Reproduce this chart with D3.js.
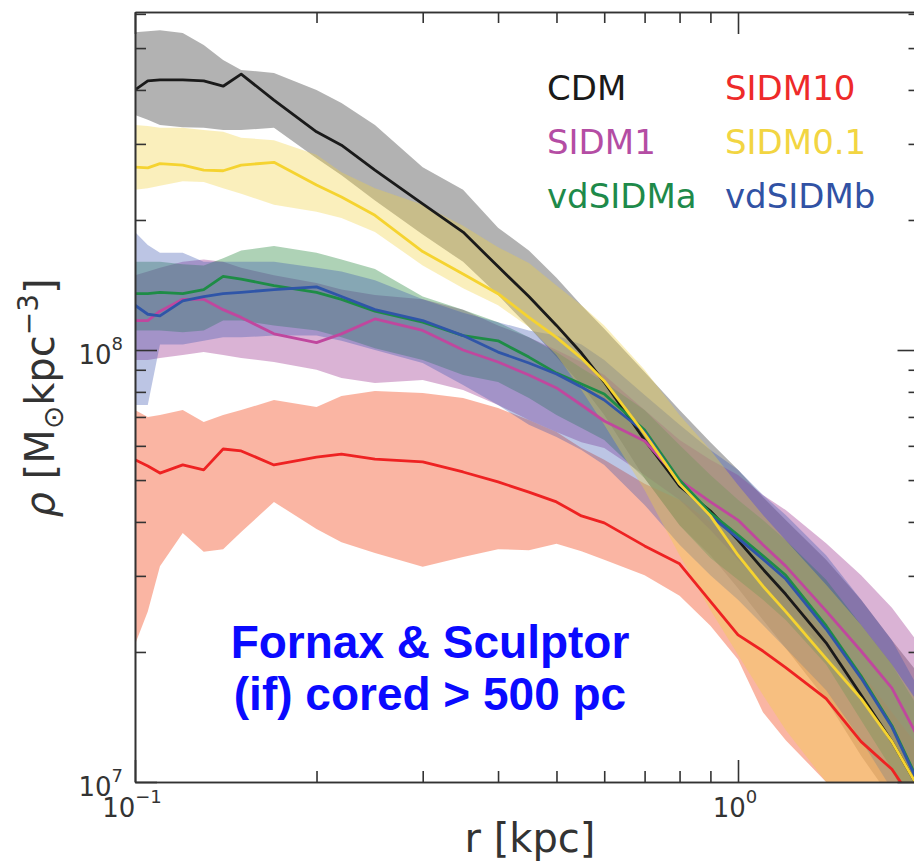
<!DOCTYPE html>
<html lang="en">
<head>
  <meta charset="UTF-8">
  <title>Density profiles - Fornax &amp; Sculptor</title>
  <script src="https://d3js.org/d3.v7.min.js"></script>
  <style>
    html, body {
      margin: 0;
      background: #ffffff;
    }
    svg {
      display: block;
    }
    text {
      font-family: "DejaVu Sans", sans-serif;
    }
    .axis path, .axis line {
      stroke: #333333;
      stroke-width: 1.6px;
    }
    .note {
      font-family: "Liberation Sans", Arial, sans-serif;
      font-weight: bold;
      font-size: 46px;
      fill: #0a0aff;
      text-anchor: middle;
    }
  </style>
</head>
<body>
  <svg width="914" height="864"></svg>

  <script>
    // radius grid (kpc)
    const radius = [0.1, 0.105, 0.11, 0.12, 0.13, 0.14, 0.15, 0.17, 0.2, 0.22, 0.25, 0.3, 0.35, 0.4,
                    0.45, 0.5, 0.55, 0.6, 0.7, 0.8, 0.9, 1.0, 1.1, 1.2, 1.4, 1.6, 1.8, 2.0];

    // density (M_sun kpc^-3): median line, lower and upper edge of the band
    const cdmMid = [4.0e8, 4.2e8, 4.22e8, 4.22e8, 4.2e8, 4.08e8, 4.35e8, 3.79e8, 3.2e8, 2.98e8, 2.61e8, 2.18e8, 1.875e8, 1.56e8,
                    1.33e8, 1.14e8, 9.84e7, 8.43e7, 6.19e7, 4.84e7, 4.24e7, 3.63e7, 3.11e7, 2.72e7, 2.1e7, 1.59e7, 1.24e7, 9.6e6];
    const cdmLo  = [3.5e8, 3.41e8, 3.32e8, 3.28e8, 3.27e8, 3.23e8, 3.23e8, 3.27e8, 2.78e8, 2.54e8, 2.22e8, 1.85e8, 1.6e8, 1.34e8,
                    1.13e8, 9.63e7, 8.3e7, 7.07e7, 5.05e7, 3.93e7, 3.35e7, 2.81e7, 2.37e7, 2.04e7, 1.55e7, 1.15e7, 9.1e6, 7.1e6];
    const cdmHi  = [5.44e8, 5.47e8, 5.5e8, 5.42e8, 5.08e8, 4.69e8, 4.45e8, 4.38e8, 4.0e8, 3.73e8, 3.32e8, 2.65e8, 2.35e8, 1.92e8,
                    1.7e8, 1.47e8, 1.27e8, 1.12e8, 8.89e7, 7.26e7, 6.12e7, 5.28e7, 4.57e7, 4.04e7, 3.27e7, 2.64e7, 2.13e7, 1.77e7];

    const sidm10Mid = [5.57e7, 5.39e7, 5.19e7, 5.42e7, 5.28e7, 5.9e7, 5.84e7, 5.42e7, 5.65e7, 5.74e7, 5.59e7, 5.51e7, 5.22e7, 4.95e7,
                       4.69e7, 4.45e7, 4.13e7, 3.98e7, 3.52e7, 3.2e7, 2.62e7, 2.19e7, 2.01e7, 1.84e7, 1.56e7, 1.24e7, 1.07e7, 8.6e6];
    const sidm10Lo  = [2.08e7, 2.48e7, 3.16e7, 3.77e7, 3.41e7, 3.46e7, 3.79e7, 4.45e7, 3.85e7, 3.59e7, 3.39e7, 3.15e7, 3.32e7, 3.46e7,
                       3.44e7, 3.56e7, 3.42e7, 3.27e7, 3.01e7, 2.7e7, 2.3e7, 1.92e7, 1.45e7, 1.25e7, 1.0e7, 8.2e6, 7.0e6, 5.9e6];
    const sidm10Hi  = [7.26e7, 7.0e7, 7.07e7, 7.26e7, 6.81e7, 7.07e7, 7.26e7, 7.66e7, 7.38e7, 7.83e7, 8.04e7, 7.95e7, 7.74e7, 7.34e7,
                       6.89e7, 6.46e7, 5.93e7, 5.57e7, 4.9e7, 4.5e7, 4.0e7, 3.55e7, 3.1e7, 2.75e7, 2.2e7, 1.8e7, 1.45e7, 1.2e7];

    const sidm1Mid = [1.17e8, 1.17e8, 1.23e8, 1.31e8, 1.31e8, 1.24e8, 1.19e8, 1.09e8, 1.04e8, 1.09e8, 1.18e8, 1.11e8, 1.0e8, 9.38e7,
                      8.75e7, 8.17e7, 7.46e7, 6.85e7, 6.16e7, 5.0e7, 4.45e7, 4.04e7, 3.54e7, 3.16e7, 2.49e7, 2.01e7, 1.65e7, 1.25e7];
    const sidm1Lo  = [9.48e7, 9.48e7, 9.58e7, 9.74e7, 9.89e7, 9.74e7, 9.58e7, 9.38e7, 9.0e7, 8.62e7, 8.39e7, 8.52e7, 8.08e7, 7.46e7,
                      6.89e7, 6.46e7, 6.12e7, 5.93e7, 5.14e7, 4.5e7, 3.83e7, 3.27e7, 2.86e7, 2.5e7, 2.02e7, 1.55e7, 1.22e7, 9.6e6];
    const sidm1Hi  = [1.49e8, 1.52e8, 1.55e8, 1.6e8, 1.62e8, 1.6e8, 1.55e8, 1.49e8, 1.43e8, 1.38e8, 1.34e8, 1.31e8, 1.24e8, 1.14e8,
                      1.07e8, 1.0e8, 9.38e7, 8.75e7, 7.26e7, 6.19e7, 5.57e7, 5.14e7, 4.62e7, 4.26e7, 3.57e7, 3.01e7, 2.53e7, 2.08e7];

    const sidm01Mid = [2.65e8, 2.64e8, 2.7e8, 2.68e8, 2.61e8, 2.6e8, 2.68e8, 2.72e8, 2.41e8, 2.26e8, 2.05e8, 1.69e8, 1.5e8, 1.35e8,
                       1.19e8, 1.07e8, 9.58e7, 8.48e7, 6.4e7, 4.9e7, 4.13e7, 3.35e7, 2.84e7, 2.48e7, 1.93e7, 1.56e7, 1.24e7, 9.6e6];
    const sidm01Lo  = [2.35e8, 2.37e8, 2.4e8, 2.46e8, 2.45e8, 2.37e8, 2.3e8, 2.17e8, 2.09e8, 2.02e8, 1.875e8, 1.57e8, 1.39e8, 1.27e8,
                       1.13e8, 9.74e7, 8.08e7, 6.71e7, 4.74e7, 3.35e7, 2.5e7, 1.97e7, 1.59e7, 1.32e7, 1.0e7, 7.7e6, 6.3e6, 5.3e6];
    const sidm01Hi  = [3.32e8, 3.3e8, 3.27e8, 3.27e8, 3.23e8, 3.2e8, 3.1e8, 3.06e8, 2.83e8, 2.58e8, 2.37e8, 2.17e8, 1.94e8, 1.73e8,
                       1.59e8, 1.41e8, 1.27e8, 1.14e8, 9.0e7, 7.07e7, 5.87e7, 4.87e7, 4.15e7, 3.63e7, 2.86e7, 2.31e7, 1.87e7, 1.51e7];

    const vdaMid = [1.35e8, 1.35e8, 1.36e8, 1.35e8, 1.38e8, 1.48e8, 1.46e8, 1.41e8, 1.36e8, 1.31e8, 1.23e8, 1.16e8, 1.08e8, 1.05e8,
                    9.63e7, 8.84e7, 8.34e7, 7.91e7, 6.53e7, 5.0e7, 4.2e7, 3.73e7, 3.34e7, 3.01e7, 2.3e7, 1.76e7, 1.35e7, 9.9e6];
    const vdaLo  = [1.11e8, 1.11e8, 1.11e8, 1.1e8, 1.11e8, 1.17e8, 1.17e8, 1.14e8, 1.11e8, 1.07e8, 1.01e8, 9.48e7, 8.75e7, 8.43e7,
                    7.74e7, 7.07e7, 6.6e7, 6.19e7, 5.05e7, 3.93e7, 3.3e7, 2.94e7, 2.64e7, 2.37e7, 1.87e7, 1.39e7, 1.07e7, 7.7e6];
    const vdaHi  = [1.6e8, 1.6e8, 1.6e8, 1.58e8, 1.57e8, 1.63e8, 1.7e8, 1.74e8, 1.68e8, 1.62e8, 1.54e8, 1.33e8, 1.24e8, 1.16e8,
                    1.07e8, 9.89e7, 9.08e7, 8.43e7, 7.26e7, 6.03e7, 5.14e7, 4.5e7, 4.04e7, 3.63e7, 2.94e7, 2.31e7, 1.87e7, 1.47e7];

    const vdbMid = [1.27e8, 1.21e8, 1.2e8, 1.3e8, 1.33e8, 1.35e8, 1.36e8, 1.38e8, 1.4e8, 1.33e8, 1.24e8, 1.17e8, 1.08e8, 9.89e7,
                    9.33e7, 8.8e7, 8.21e7, 7.66e7, 6.46e7, 4.9e7, 4.13e7, 3.67e7, 3.28e7, 2.95e7, 2.26e7, 1.74e7, 1.34e7, 9.8e6];
    const vdbLo  = [7.46e7, 7.46e7, 1.03e8, 1.03e8, 1.05e8, 1.07e8, 1.07e8, 1.08e8, 1.08e8, 1.05e8, 1.0e8, 9.33e7, 8.3e7, 7.46e7,
                    6.71e7, 6.29e7, 5.87e7, 5.42e7, 4.38e7, 3.54e7, 3.01e7, 2.64e7, 2.31e7, 2.04e7, 1.63e7, 1.25e7, 9.6e6, 7.3e6];
    const vdbHi  = [1.875e8, 1.75e8, 1.68e8, 1.68e8, 1.6e8, 1.6e8, 1.6e8, 1.6e8, 1.55e8, 1.52e8, 1.45e8, 1.31e8, 1.22e8, 1.16e8,
                    1.11e8, 1.08e8, 1.03e8, 9.48e7, 7.87e7, 6.71e7, 5.87e7, 5.28e7, 4.62e7, 4.15e7, 3.35e7, 2.64e7, 2.13e7, 1.63e7];

    // tick values
    const xMajor = [0.1, 1];
    const xMinor = [0.2, 0.3, 0.4, 0.5, 0.6, 0.7, 0.8, 0.9, 2];
    const yMajor = [1e7, 1e8];
    const yMinor = [2e7, 3e7, 4e7, 5e7, 6e7, 7e7, 8e7, 9e7, 2e8, 3e8, 4e8, 5e8, 6e8];
    const xTickLabels = [["10", "\u22121"], ["10", "0"]];
    const yTickLabels = [["10", "7"], ["10", "8"]];

    // band order = drawing order
    const series = [
      { name: "CDM",     mid: cdmMid,    lo: cdmLo,    hi: cdmHi,    line: "#1a1a1a", band: "#000000", alpha: 0.30 },
      { name: "SIDM10",  mid: sidm10Mid, lo: sidm10Lo, hi: sidm10Hi, line: "#ee2222", band: "#f7876a", alpha: 0.62 },
      { name: "SIDM1",   mid: sidm1Mid,  lo: sidm1Lo,  hi: sidm1Hi,  line: "#c0479e", band: "#a84a9c", alpha: 0.42 },
      { name: "vdSIDMa", mid: vdaMid,    lo: vdaLo,    hi: vdaHi,    line: "#1e8c46", band: "#2a8a40", alpha: 0.38 },
      { name: "vdSIDMb", mid: vdbMid,    lo: vdbLo,    hi: vdbHi,    line: "#2f55a8", band: "#3a56b0", alpha: 0.34 },
      { name: "SIDM0.1", mid: sidm01Mid, lo: sidm01Lo, hi: sidm01Hi, line: "#f5d330", band: "#f0d040", alpha: 0.35 }
    ];

    const legend = [
      { name: "CDM",     color: "#1a1a1a", col: 0, row: 0 },
      { name: "SIDM10",  color: "#ee2a2a", col: 1, row: 0 },
      { name: "SIDM1",   color: "#b44da4", col: 0, row: 1 },
      { name: "SIDM0.1", color: "#f2d542", col: 1, row: 1 },
      { name: "vdSIDMa", color: "#1e8a4a", col: 0, row: 2 },
      { name: "vdSIDMb", color: "#3152a4", col: 1, row: 2 }
    ];

    // plot frame
    const frameLeft = 135, frameTop = 12, frameBottom = 782;
    const frameRight = 135 + 603 * Math.log10(2 / 0.1);

    const svg = d3.select("svg");

    const x = d3.scaleLog().domain([0.1, 2]).range([frameLeft, frameRight]);
    const y = d3.scaleLog().domain([1e7, 6.06e8]).range([frameBottom, frameTop]);

    svg.append("defs").append("clipPath")
       .attr("id", "plot-clip")
       .append("rect")
       .attr("x", frameLeft).attr("y", frameTop)
       .attr("width", frameRight - frameLeft).attr("height", frameBottom - frameTop);

    const plot = svg.append("g").attr("clip-path", "url(#plot-clip)");

    const area = (s) => d3.area()
      .x((d, i) => x(radius[i]))
      .y0((d, i) => y(s.lo[i]))
      .y1((d, i) => y(s.hi[i]));

    const line = d3.line()
      .x((d, i) => x(radius[i]))
      .y(d => y(d));

    // bands
    plot.selectAll(".band")
        .data(series)
        .enter()
        .append("path")
        .attr("class", "band")
        .attr("d", s => area(s)(s.mid))
        .attr("fill", s => s.band)
        .attr("fill-opacity", s => s.alpha)
        .attr("stroke", "none");

    // median lines
    plot.selectAll(".med")
        .data(series)
        .enter()
        .append("path")
        .attr("class", "med")
        .attr("d", s => line(s.mid))
        .attr("fill", "none")
        .attr("stroke", s => s.line)
        .attr("stroke-width", 2.8)
        .attr("stroke-linejoin", "round");

    // axes, ticks pointing inward on all four sides
    const addAxis = (axisFn, tx, ty, values, size) => {
      svg.append("g")
         .attr("class", "axis")
         .attr("transform", `translate(${tx}, ${ty})`)
         .call(axisFn.tickValues(values).tickSizeInner(-size).tickSizeOuter(0).tickFormat(""));
    };
    addAxis(d3.axisBottom(x), 0, frameBottom, xMajor, 22);
    addAxis(d3.axisBottom(x), 0, frameBottom, xMinor, 11);
    addAxis(d3.axisTop(x), 0, frameTop, xMajor, 22);
    addAxis(d3.axisTop(x), 0, frameTop, xMinor, 11);
    addAxis(d3.axisLeft(y), frameLeft, 0, yMajor, 22);
    addAxis(d3.axisLeft(y), frameLeft, 0, yMinor, 11);
    addAxis(d3.axisRight(y), frameRight, 0, yMajor, 22);
    addAxis(d3.axisRight(y), frameRight, 0, yMinor, 11);

    // tick labels with superscript exponents
    xMajor.forEach((v, i) => {
      const t = svg.append("text")
         .attr("x", x(v) - 3)
         .attr("y", 817)
         .attr("text-anchor", "middle")
         .attr("fill", "#333")
         .style("font-size", "26px")
         .text(xTickLabels[i][0]);
      t.append("tspan")
       .attr("dy", -14)
       .style("font-size", "18px")
       .text(xTickLabels[i][1]);
    });

    yMajor.forEach((v, i) => {
      const t = svg.append("text")
         .attr("x", 123)
         .attr("y", y(v) + 14)
         .attr("text-anchor", "end")
         .attr("fill", "#333")
         .style("font-size", "26px")
         .text(yTickLabels[i][0]);
      t.append("tspan")
       .attr("dy", -14)
       .style("font-size", "18px")
       .text(yTickLabels[i][1]);
    });

    // axis titles
    svg.append("text")
       .attr("x", 530)
       .attr("y", 852)
       .attr("text-anchor", "middle")
       .attr("fill", "#333")
       .style("font-size", "40px")
       .text("r [kpc]");

    const yTitle = svg.append("text")
       .attr("transform", "translate(54, 398) rotate(-90)")
       .attr("text-anchor", "middle")
       .attr("fill", "#333")
       .style("font-size", "40px");
    yTitle.append("tspan").style("font-style", "italic").text("\u03c1");
    yTitle.append("tspan").text(" [M");
    yTitle.append("tspan").attr("dy", 9).style("font-size", "28px").text("\u2299");
    yTitle.append("tspan").attr("dy", -9).text("kpc");
    yTitle.append("tspan").attr("dy", -16).style("font-size", "28px").text("\u22123");
    yTitle.append("tspan").attr("dy", 16).text("]");

    // legend
    svg.selectAll(".legend")
       .data(legend)
       .enter()
       .append("text")
       .attr("class", "legend")
       .attr("x", d => d.col === 0 ? 547 : 725)
       .attr("y", d => 100 + d.row * 54)
       .attr("fill", d => d.color)
       .style("font-size", "34px")
       .text(d => d.name);

    // annotation
    svg.append("text").attr("class", "note").attr("x", 430).attr("y", 658).text("Fornax & Sculptor");
    svg.append("text").attr("class", "note").attr("x", 430).attr("y", 710).text("(if) cored > 500 pc");
  </script>
</body>
</html>
